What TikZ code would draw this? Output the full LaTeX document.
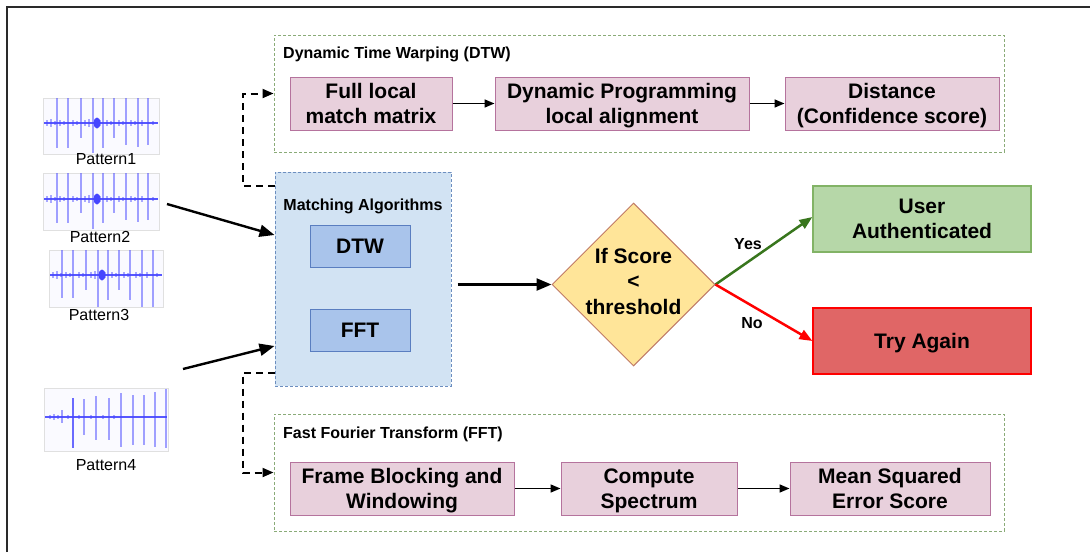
\documentclass[tikz,border=0pt]{standalone}
\usepackage{fontspec}
\setmainfont{Liberation Sans}
\usetikzlibrary{arrows.meta,shapes.geometric,calc}

\definecolor{pinkfill}{HTML}{E8D0DC}
\definecolor{pinkline}{HTML}{B5739D}
\definecolor{grpline}{HTML}{8AAB78}
\definecolor{bluefill}{HTML}{D2E3F3}
\definecolor{blueline}{HTML}{6C8EBF}
\definecolor{algfill}{HTML}{A9C4EB}
\definecolor{algline}{HTML}{5A7EC0}
\definecolor{diafill}{HTML}{FFE599}
\definecolor{dialine}{HTML}{C07A66}
\definecolor{okfill}{HTML}{B6D7A8}
\definecolor{okline}{HTML}{82B366}
\definecolor{badfill}{HTML}{E06666}
\definecolor{badline}{HTML}{FF0000}
\definecolor{yesline}{HTML}{38761D}
\definecolor{waveblue}{HTML}{4646FF}
\definecolor{wavebg}{HTML}{FAFAFF}
\definecolor{frameline}{HTML}{2A2A2A}

\tikzset{
  bigtext/.style={font=\fontsize{21}{25.5}\selectfont\bfseries, align=center,
    text depth=0pt},
  smalltext/.style={font=\fontsize{16}{19}\selectfont\bfseries, inner sep=0pt},
  stagebox/.style={draw=pinkline, fill=pinkfill, line width=1pt, bigtext,
    inner sep=0pt, minimum height=53pt},
  groupbox/.style={draw=grpline, line width=1pt, dash pattern=on 3pt off 2pt,
    inner sep=0pt},
  algbox/.style={draw=algline, fill=algfill, line width=1pt, bigtext,
    inner sep=0pt, minimum width=100pt, minimum height=42pt},
  resultbox/.style={line width=1.2pt, bigtext, inner sep=0pt,
    minimum width=218pt, minimum height=66pt},
  flow/.style={line width=1.5pt, -{Triangle[length=10pt,width=8pt]}},
  bigflow/.style={line width=2.4pt, -{Triangle[length=15pt,width=12pt]}},
  dashflow/.style={line width=2pt, dash pattern=on 7pt off 5pt,
    -{Triangle[length=11pt,width=9pt]}},
  wavebox/.style={draw=black!12, fill=wavebg, line width=0.6pt,
    inner sep=0pt, anchor=north west},
  spike/.style={waveblue, line width=2.4pt, opacity=0.5},
  ripple/.style={waveblue, line width=1.4pt, opacity=0.45},
  waveaxis/.style={waveblue, line width=2.6pt, opacity=0.9},
  patlabel/.style={font=\fontsize{16}{19}\selectfont, inner sep=0pt}
}

\begin{document}
\begin{tikzpicture}[x=1pt,y=-1pt]
\useasboundingbox (0,0) rectangle (1090,552);

% outer frame
\draw[frameline, line width=1.5pt] (7,552) -- (7,7) -- (1090,7);

% ---------- recorded tap patterns ----------
% Pattern1
\node[wavebox, minimum width=116pt, minimum height=56pt] (p1) at (43,98) {};
\begin{scope}[shift={(43,98)}]
  \foreach \x/\a/\b in {14/0/50, 25/0/50, 38/0/40, 50/0/55, 60/0/50,
                        71/0/40, 83/0/47, 95/0/49, 105/0/47}
    \draw[spike] (\x,\a) -- (\x,\b);
  \foreach \x/\h in {4/3,8/4,12/2,17/3,21/2,30/3,34/2,42/3,46/4,57/3,64/3,68/2,76/3,80/2,88/3,92/2,99/3,110/2}
    \draw[ripple] (\x,25-\h) -- (\x,25+\h);
  \draw[waveaxis] (1,25) -- (115,25);
  \fill[waveblue] (54,25) ellipse (3.5 and 5.5);
\end{scope}
\node[patlabel] (l1) at (106,159) {Pattern1};

% Pattern2
\node[wavebox, minimum width=116pt, minimum height=57pt] (p2) at (43,173) {};
\begin{scope}[shift={(43,173)}]
  \foreach \x/\a/\b in {14/0/50, 25/0/50, 38/0/40, 50/0/56, 60/0/50,
                        71/0/40, 83/0/47, 95/0/49, 105/0/47}
    \draw[spike] (\x,\a) -- (\x,\b);
  \foreach \x/\h in {4/3,8/4,12/2,17/3,21/2,30/3,34/2,42/3,46/4,57/3,64/3,68/2,76/3,80/2,88/3,92/2,99/3,110/2}
    \draw[ripple] (\x,26-\h) -- (\x,26+\h);
  \draw[waveaxis] (1,26) -- (115,26);
  \fill[waveblue] (54,26) ellipse (3.5 and 5.5);
\end{scope}
\node[patlabel] (l2) at (100,237) {Pattern2};

% Pattern3
\node[wavebox, minimum width=114pt, minimum height=57pt] (p3) at (49,250) {};
\begin{scope}[shift={(49,250)}]
  \foreach \x/\a/\b in {13/0/48, 24/0/48, 37/0/40, 49/0/57, 59/0/50,
                        70/0/40, 81/0/50, 93/0/57, 104/0/57}
    \draw[spike] (\x,\a) -- (\x,\b);
  \foreach \x/\h in {4/3,8/4,12/2,17/3,21/2,30/3,34/2,42/3,46/4,56/3,63/3,67/2,75/3,79/2,87/3,91/2,98/3,108/2}
    \draw[ripple] (\x,25-\h) -- (\x,25+\h);
  \draw[waveaxis] (1,25) -- (113,25);
  \fill[waveblue] (53,25) ellipse (3.5 and 5.5);
\end{scope}
\node[patlabel] (l3) at (99,315) {Pattern3};

% Pattern4
\node[wavebox, minimum width=124pt, minimum height=63pt] (p4) at (44,388) {};
\begin{scope}[shift={(44,388)}]
  \foreach \x/\a/\b in {18/22/35, 40/11/47, 52/8/52, 65/10/52,
                        77/5/59, 89/7/57, 100/7/57, 111/4/59, 122/1/60}
    \draw[spike] (\x,\a) -- (\x,\b);
  \draw[waveblue, line width=1.6pt, opacity=0.8] (29,10) -- (29,60);
  \foreach \x/\h in {6/2,10/3,14/2,24/2,35/2,47/2,59/2,70/2}
    \draw[ripple] (\x,29-\h) -- (\x,29+\h);
  \draw[waveaxis] (1,29) -- (123,29);
\end{scope}
\node[patlabel] (l4) at (106,465) {Pattern4};

% ---------- Dynamic Time Warping group ----------
\node[groupbox, minimum width=730pt, minimum height=117pt] (dtwgrp) at (639,93.5) {};
\node[smalltext, anchor=west] (dtwtitle) at (283,54) {Dynamic Time Warping (DTW)};
\node[stagebox, minimum width=162pt] (d1) at (371,103.5) {Full local\\match matrix};
\node[stagebox, minimum width=254pt] (d2) at (622,103.5) {Dynamic Programming\\local alignment};
\node[stagebox, minimum width=214pt] (d3) at (892,103.5) {Distance\\(Confidence score)};
\draw[flow] (d1) -- (d2);
\draw[flow] (d2) -- (d3);

% ---------- Fast Fourier Transform group ----------
\node[groupbox, minimum width=730pt, minimum height=117pt] (fftgrp) at (639,472.5) {};
\node[smalltext, anchor=west] (ffttitle) at (283,434) {Fast Fourier Transform (FFT)};
\node[stagebox, minimum width=224pt] (f1) at (402,488.5) {Frame Blocking and\\Windowing};
\node[stagebox, minimum width=176pt] (f2) at (649,488.5) {Compute\\Spectrum};
\node[stagebox, minimum width=200pt] (f3) at (890,488.5) {Mean Squared\\Error Score};
\draw[flow] (f1) -- (f2);
\draw[flow] (f2) -- (f3);

% ---------- matching algorithms ----------
\node[draw=blueline, fill=bluefill, line width=1pt, dash pattern=on 3pt off 2pt,
      minimum width=176pt, minimum height=214pt, inner sep=0pt] (match) at (363,279) {};
\node[smalltext] (mtitle) at (363,206) {Matching Algorithms};
\node[algbox] (dtw) at (360,246) {DTW};
\node[algbox] (fft) at (360,330) {FFT};

% links from the matching block to the two detailed pipelines
\draw[dashflow] ([yshift=-14pt]match.north west) -- ++(-32,0) |- (dtwgrp.west);
\draw[dashflow] ([yshift=14pt]match.south west) -- ++(-32,0) |- (fftgrp.west);

% patterns feed the matcher
\coordinate (in1) at (167,204);
\coordinate (in2) at (183,369);
\draw[bigflow] (in1) -- ([yshift=44pt]match.west);
\draw[bigflow] (in2) -- ([yshift=-67pt]match.west);

% ---------- decision ----------
\node[diamond, draw=dialine, fill=diafill, line width=1pt,
      minimum width=163pt, minimum height=163pt, inner sep=0pt] (dec) at (633.5,284.5) {};
\node[bigtext, inner sep=0pt] (dectext) at (633.5,281) {If Score\\<\\threshold};
\draw[bigflow] ([xshift=6pt]match.east |- dec.west) -- (dec.west);

\node[resultbox, draw=okline, fill=okfill] (ok) at (922,219) {User\\Authenticated};
\node[resultbox, draw=badline, fill=badfill] (bad) at (922,341) {Try Again};

\draw[yesline, line width=2.5pt, -{Triangle[length=13pt,width=10pt]}]
  (dec.east) -- ([yshift=2pt]ok.west);
\draw[badline, line width=2.5pt, -{Triangle[length=13pt,width=10pt]}]
  (dec.east) -- (bad.west);
\node[smalltext] (yes) at (748,244) {Yes};
\node[smalltext] (no) at (752,323) {No};

\end{tikzpicture}
\end{document}
